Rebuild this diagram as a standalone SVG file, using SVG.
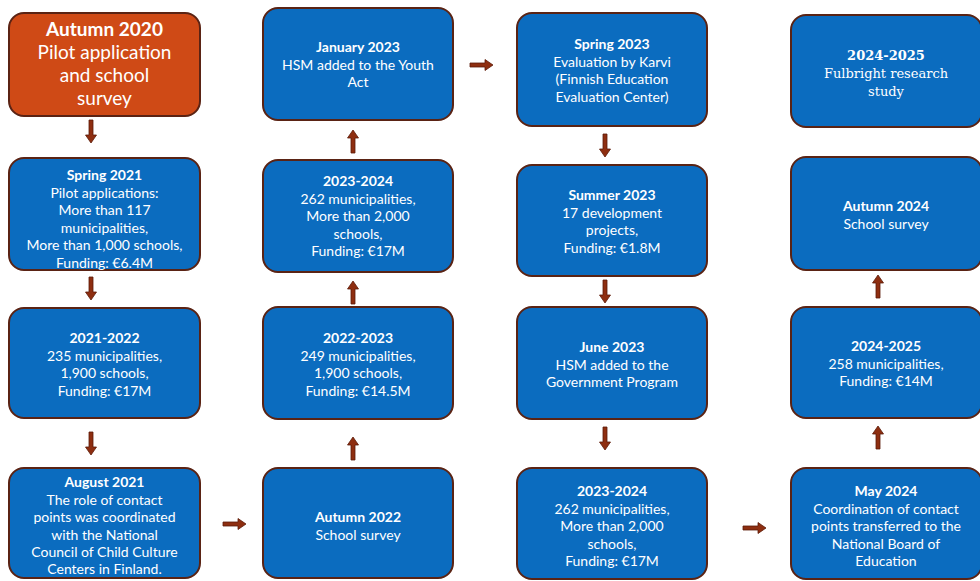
<svg xmlns="http://www.w3.org/2000/svg" width="980" height="581" viewBox="0 0 980 581">
<style>
.box{fill:#0B6CBF;stroke:#5A2314;stroke-width:2}
.orange{fill:#CF4A16;stroke:#5A2314;stroke-width:2}
text{font-family:Lato,"Open Sans",sans-serif;fill:#FFFFFF;text-anchor:middle;font-size:14px}
.t{font-weight:bold}
.big{font-size:19px}
.serif{font-family:"DejaVu Serif","Liberation Serif",serif;font-size:13px}
.arrow{fill:#8E2E10;stroke:#5A1A08;stroke-width:0.8}
</style>
<defs>
<path id="arr" d="M0,-2 H15 V-5.5 L23,0 L15,5.5 V2 H0 Z"/>
</defs>
<rect width="980" height="581" fill="#FFFFFF"/>

<g id="autumn2020">
<rect class="orange" x="9" y="13" width="191" height="103" rx="15"/>
<text class="t big" x="104.5" y="36">Autumn 2020</text>
<text class="big" x="104.5" y="59">Pilot application</text>
<text class="big" x="104.5" y="82">and school</text>
<text class="big" x="104.5" y="105">survey</text>
</g>

<g id="spring2021">
<rect class="box" x="9" y="158" width="191" height="112" rx="15"/>
<text class="t" x="104.5" y="180">Spring 2021</text>
<text x="104.5" y="197.5">Pilot applications:</text>
<text x="104.5" y="215">More than 117</text>
<text x="104.5" y="232.5">municipalities,</text>
<text x="104.5" y="250">More than 1,000 schools,</text>
<text x="104.5" y="267.5">Funding: €6.4M</text>
</g>

<g id="y2021-2022">
<rect class="box" x="9" y="308" width="191" height="110" rx="15"/>
<text class="t" x="104.5" y="343">2021-2022</text>
<text x="104.5" y="360.5">235 municipalities,</text>
<text x="104.5" y="378">1,900 schools,</text>
<text x="104.5" y="395.5">Funding: €17M</text>
</g>

<g id="august2021">
<rect class="box" x="9" y="468" width="191" height="110" rx="15"/>
<text class="t" x="104.5" y="487">August 2021</text>
<text x="104.5" y="504.5">The role of contact</text>
<text x="104.5" y="522">points was coordinated</text>
<text x="104.5" y="539.5">with the National</text>
<text x="104.5" y="557">Council of Child Culture</text>
<text x="104.5" y="574">Centers in Finland.</text>
</g>

<g id="january2023">
<rect class="box" x="263" y="8" width="190" height="112" rx="15"/>
<text class="t" x="358" y="52">January 2023</text>
<text x="358" y="69.5">HSM added to the Youth</text>
<text x="358" y="87">Act</text>
</g>

<g id="y2023-2024a">
<rect class="box" x="263" y="160" width="190" height="112" rx="15"/>
<text class="t" x="358" y="186">2023-2024</text>
<text x="358" y="203.5">262 municipalities,</text>
<text x="358" y="221">More than 2,000</text>
<text x="358" y="238.5">schools,</text>
<text x="358" y="256">Funding: €17M</text>
</g>

<g id="y2022-2023">
<rect class="box" x="263" y="307" width="190" height="112" rx="15"/>
<text class="t" x="358" y="343">2022-2023</text>
<text x="358" y="360.5">249 municipalities,</text>
<text x="358" y="378">1,900 schools,</text>
<text x="358" y="395.5">Funding: €14.5M</text>
</g>

<g id="autumn2022">
<rect class="box" x="263" y="468" width="190" height="110" rx="15"/>
<text class="t" x="358" y="522">Autumn 2022</text>
<text x="358" y="539.5">School survey</text>
</g>

<g id="spring2023">
<rect class="box" x="517" y="13" width="190" height="113" rx="15"/>
<text class="t" x="612" y="49">Spring 2023</text>
<text x="612" y="66.5">Evaluation by Karvi</text>
<text x="612" y="84">(Finnish Education</text>
<text x="612" y="101.5">Evaluation Center)</text>
</g>

<g id="summer2023">
<rect class="box" x="517" y="165" width="190" height="111" rx="15"/>
<text class="t" x="612" y="200">Summer 2023</text>
<text x="612" y="217.5">17 development</text>
<text x="612" y="235">projects,</text>
<text x="612" y="252.5">Funding: €1.8M</text>
</g>

<g id="june2023">
<rect class="box" x="517" y="307" width="190" height="112" rx="15"/>
<text class="t" x="612" y="352">June 2023</text>
<text x="612" y="369.5">HSM added to the</text>
<text x="612" y="387">Government Program</text>
</g>

<g id="y2023-2024b">
<rect class="box" x="517" y="468" width="190" height="111" rx="15"/>
<text class="t" x="612" y="496">2023-2024</text>
<text x="612" y="513.5">262 municipalities,</text>
<text x="612" y="531">More than 2,000</text>
<text x="612" y="548.5">schools,</text>
<text x="612" y="566">Funding: €17M</text>
</g>

<g id="fulbright">
<rect class="box" x="791" y="15" width="191" height="112" rx="15"/>
<text class="t serif" x="886" y="60">2024-2025</text>
<text class="serif" x="886" y="78">Fulbright research</text>
<text class="serif" x="886" y="96">study</text>
</g>

<g id="autumn2024">
<rect class="box" x="791" y="157" width="191" height="113" rx="15"/>
<text class="t" x="886" y="211">Autumn 2024</text>
<text x="886" y="228.5">School survey</text>
</g>

<g id="y2024-2025">
<rect class="box" x="791" y="307" width="191" height="111" rx="15"/>
<text class="t" x="886" y="351">2024-2025</text>
<text x="886" y="368.5">258 municipalities,</text>
<text x="886" y="386">Funding: €14M</text>
</g>

<g id="may2024">
<rect class="box" x="791" y="468" width="191" height="111" rx="15"/>
<text class="t" x="886" y="496">May 2024</text>
<text x="886" y="513.5">Coordination of contact</text>
<text x="886" y="531">points transferred to the</text>
<text x="886" y="548.5">National Board of</text>
<text x="886" y="566">Education</text>
</g>

<g id="connectors">
<use href="#arr" class="arrow" transform="translate(91,120) rotate(90)"/>
<use href="#arr" class="arrow" transform="translate(91,277) rotate(90)"/>
<use href="#arr" class="arrow" transform="translate(91,432) rotate(90)"/>
<use href="#arr" class="arrow" transform="translate(223,524)"/>
<use href="#arr" class="arrow" transform="translate(353,460) rotate(-90)"/>
<use href="#arr" class="arrow" transform="translate(353,304) rotate(-90)"/>
<use href="#arr" class="arrow" transform="translate(353,153) rotate(-90)"/>
<use href="#arr" class="arrow" transform="translate(470,65)"/>
<use href="#arr" class="arrow" transform="translate(605,134) rotate(90)"/>
<use href="#arr" class="arrow" transform="translate(605,280) rotate(90)"/>
<use href="#arr" class="arrow" transform="translate(605,427) rotate(90)"/>
<use href="#arr" class="arrow" transform="translate(743,528)"/>
<use href="#arr" class="arrow" transform="translate(878,449) rotate(-90)"/>
<use href="#arr" class="arrow" transform="translate(878,298) rotate(-90)"/>
</g>
</svg>
